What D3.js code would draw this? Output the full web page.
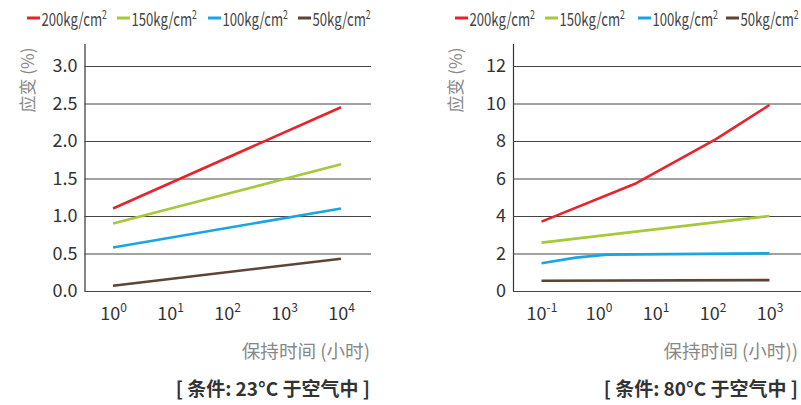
<!DOCTYPE html>
<html><head><meta charset="utf-8">
<script src="https://cdn.jsdelivr.net/npm/d3@7"></script>
<style>
body{margin:0;background:#fff;}
svg{display:block;font-family:"Noto Sans CJK SC","Noto Sans",sans-serif;}
</style></head>
<body><svg id="c" width="801" height="405"></svg>
<script>
// ---- data ----
const seriesNames = ["200kg/cm", "150kg/cm", "100kg/cm", "50kg/cm"];
const seriesColors = ["#e6242b", "#a5c93a", "#1aa5e2", "#5d4536"];

// Left chart: 23°C
const leftYTicks = [0, 0.5, 1.0, 1.5, 2.0, 2.5, 3.0];
const leftXTicks = [1, 10, 100, 1000, 10000];
const leftXExp = ["0", "1", "2", "3", "4"];
const left200Hours = [1, 10000], left200 = [1.10, 2.45];
const left150Hours = [1, 10000], left150 = [0.90, 1.69];
const left100Hours = [1, 10000], left100 = [0.58, 1.10];
const left50Hours = [1, 10000], left50 = [0.07, 0.43];

// Right chart: 80°C
const rightYTicks = [0, 2, 4, 6, 8, 10, 12];
const rightXTicks = [0.1, 1, 10, 100, 1000];
const rightXExp = ["-1", "0", "1", "2", "3"];
const right200Hours = [0.1, 4.6, 115, 1000], right200 = [3.70, 5.75, 8.10, 9.92];
const right150Hours = [0.1, 1000], right150 = [2.58, 4.00];
const right100Hours = [0.1, 0.4, 1.4, 1000], right100 = [1.48, 1.78, 1.94, 2.01];
const right50Hours = [0.1, 1000], right50 = [0.55, 0.58];

const yLabel = "应变 (%)";
const leftXLabel = "保持时间 (小时)";
const rightXLabel = "保持时间 (小时))";
const leftTitle = "[ 条件: 23°C 于空气中 ]";
const rightTitle = "[ 条件: 80°C 于空气中 ]";

const svg = d3.select("#c");

function drawPanel(cfg) {
  const g = svg.append("g");
  const x = d3.scaleLog().domain(cfg.xDomain).range(cfg.xRange);
  const y = d3.scaleLinear().domain(cfg.yDomain).range([291, 43.5]);

  // y axis with gridlines
  const ya = g.append("g").attr("transform", `translate(${cfg.axisX},0)`)
    .call(d3.axisLeft(y).tickValues(cfg.yTicks).tickFormat(cfg.yFmt)
      .tickSize(-(cfg.gridEnd - cfg.axisX)).tickSizeOuter(0).tickPadding(7));
  ya.select(".domain").attr("stroke", "#333").attr("stroke-width", 1.2);
  ya.selectAll(".tick line").attr("stroke", "#444").attr("stroke-width", 1);
  ya.selectAll(".tick text").attr("font-size", 18).attr("fill", "#333")
    .attr("font-family", '"Noto Sans CJK SC","Noto Sans",sans-serif');

  // x axis (labels only)
  const xa = g.append("g").attr("transform", "translate(0,291)")
    .call(d3.axisBottom(x).tickValues(cfg.xTicks).tickSize(0).tickPadding(0).tickFormat(() => ""));
  xa.select(".domain").remove();
  xa.selectAll(".tick text").each(function(d, i) {
    const t = d3.select(this);
    t.text(null).attr("y", 29).attr("dy", null).attr("font-size", 18).attr("fill", "#333")
      .attr("font-family", '"Noto Sans CJK SC","Noto Sans",sans-serif');
    t.append("tspan").text("10");
    t.append("tspan").attr("font-size", 12).attr("dy", -8).text(cfg.xExp[i]);
  });

  // lines
  const line = d3.line().x(d => x(d[0])).y(d => y(d[1]));
  cfg.series.forEach((s, i) => {
    g.append("path").datum(d3.zip(s.h, s.v))
      .attr("d", line).attr("fill", "none")
      .attr("stroke", seriesColors[i]).attr("stroke-width", 2.6)
      .attr("stroke-linejoin", "round");
  });

  // y label
  g.append("text").attr("transform", `translate(${cfg.yLabelX},80) rotate(-90)`)
    .attr("text-anchor", "middle").attr("dy", "0.35em")
    .attr("font-size", 17).attr("fill", "#888").text(yLabel);

  // x label
  g.append("text").attr("x", cfg.labelRight).attr("y", 358).attr("text-anchor", "end")
    .attr("font-size", 18.6).attr("fill", "#888").text(cfg.xLabel);

  // title
  g.append("text").attr("x", cfg.labelRight).attr("y", 396).attr("text-anchor", "end")
    .attr("font-size", 19).attr("font-weight", "bold").attr("fill", "#333").text(cfg.title);

  // legend
  cfg.legendX.forEach((lx, i) => {
    g.append("rect").attr("x", lx).attr("y", 16.5).attr("width", 13).attr("height", 3)
      .attr("fill", seriesColors[i]);
    const lt = g.append("text").attr("transform", `translate(${lx + 14.5},25.5) scale(0.73,1)`)
      .attr("font-size", 18).attr("fill", "#444");
    lt.append("tspan").text(seriesNames[i]);
    lt.append("tspan").attr("font-size", 12).attr("dy", -7).text("2");
  });
}

drawPanel({
  xDomain: [1, 10000], xRange: [113, 341], yDomain: [0, 3.3],
  axisX: 84.5, gridEnd: 371, yTicks: leftYTicks, yFmt: d3.format(".1f"),
  xTicks: leftXTicks, xExp: leftXExp, yLabelX: 28,
  xLabel: leftXLabel, title: leftTitle, labelRight: 370,
  legendX: [27, 117, 208, 298],
  series: [
    {h: left200Hours, v: left200}, {h: left150Hours, v: left150},
    {h: left100Hours, v: left100}, {h: left50Hours, v: left50}
  ]
});

drawPanel({
  xDomain: [0.1, 1000], xRange: [541.5, 769.5], yDomain: [0, 13.2],
  axisX: 513, gridEnd: 801, yTicks: rightYTicks, yFmt: d3.format("d"),
  xTicks: rightXTicks, xExp: rightXExp, yLabelX: 456,
  xLabel: rightXLabel, title: rightTitle, labelRight: 798,
  legendX: [455, 545, 638, 726],
  series: [
    {h: right200Hours, v: right200}, {h: right150Hours, v: right150},
    {h: right100Hours, v: right100}, {h: right50Hours, v: right50}
  ]
});
</script></body></html>
